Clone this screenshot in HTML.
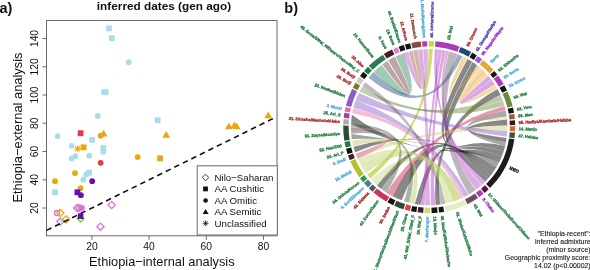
<!DOCTYPE html>
<html><head><meta charset="utf-8"><style>
html,body{margin:0;padding:0;background:#fff;}
svg{display:block;font-family:"Liberation Sans",sans-serif;}
.gs{will-change:transform;}
</style></head><body>
<svg width="590" height="270" viewBox="0 0 590 270">
<rect width="590" height="270" fill="#fff"/>
<g class="gs">
<rect x="46.5" y="20.5" width="230.5" height="215.3" fill="none" stroke="#6a6a6a" stroke-width="1"/>
<line x1="91.9" y1="235.8" x2="91.9" y2="239.8" stroke="#6a6a6a" stroke-width="1"/>
<text x="91.9" y="250.3" font-size="10.3" text-anchor="middle" fill="#111">20</text>
<line x1="149.1" y1="235.8" x2="149.1" y2="239.8" stroke="#6a6a6a" stroke-width="1"/>
<text x="149.1" y="250.3" font-size="10.3" text-anchor="middle" fill="#111">40</text>
<line x1="206.3" y1="235.8" x2="206.3" y2="239.8" stroke="#6a6a6a" stroke-width="1"/>
<text x="206.3" y="250.3" font-size="10.3" text-anchor="middle" fill="#111">60</text>
<line x1="263.5" y1="235.8" x2="263.5" y2="239.8" stroke="#6a6a6a" stroke-width="1"/>
<text x="263.5" y="250.3" font-size="10.3" text-anchor="middle" fill="#111">80</text>
<line x1="42.5" y1="208.0" x2="46.5" y2="208.0" stroke="#6a6a6a" stroke-width="1"/>
<text x="0" y="0" transform="translate(37.7 208.0) rotate(-90)" font-size="10.3" text-anchor="middle" fill="#111">20</text>
<line x1="42.5" y1="179.8" x2="46.5" y2="179.8" stroke="#6a6a6a" stroke-width="1"/>
<text x="0" y="0" transform="translate(37.7 179.8) rotate(-90)" font-size="10.3" text-anchor="middle" fill="#111">40</text>
<line x1="42.5" y1="151.5" x2="46.5" y2="151.5" stroke="#6a6a6a" stroke-width="1"/>
<text x="0" y="0" transform="translate(37.7 151.5) rotate(-90)" font-size="10.3" text-anchor="middle" fill="#111">60</text>
<line x1="42.5" y1="123.2" x2="46.5" y2="123.2" stroke="#6a6a6a" stroke-width="1"/>
<text x="0" y="0" transform="translate(37.7 123.2) rotate(-90)" font-size="10.3" text-anchor="middle" fill="#111">80</text>
<line x1="42.5" y1="95.0" x2="46.5" y2="95.0" stroke="#6a6a6a" stroke-width="1"/>
<text x="0" y="0" transform="translate(37.7 95.0) rotate(-90)" font-size="10.3" text-anchor="middle" fill="#111">100</text>
<line x1="42.5" y1="66.8" x2="46.5" y2="66.8" stroke="#6a6a6a" stroke-width="1"/>
<text x="0" y="0" transform="translate(37.7 66.8) rotate(-90)" font-size="10.3" text-anchor="middle" fill="#111">120</text>
<line x1="42.5" y1="38.5" x2="46.5" y2="38.5" stroke="#6a6a6a" stroke-width="1"/>
<text x="0" y="0" transform="translate(37.7 38.5) rotate(-90)" font-size="10.3" text-anchor="middle" fill="#111">140</text>
<text x="161.8" y="265.8" font-size="12.8" text-anchor="middle" fill="#111">Ethiopia−internal analysis</text>
<text x="0" y="0" transform="translate(22.4 127.5) rotate(-90)" font-size="12.9" text-anchor="middle" fill="#111">Ethiopia−external analysis</text>
<text x="164" y="10.1" font-size="11.8" font-weight="bold" text-anchor="middle" fill="#111">inferred dates (gen ago)</text>
<text x="-0.5" y="13.4" font-size="14.5" font-weight="bold" fill="#111">a)</text>
<text x="284.3" y="13.3" font-size="14.5" font-weight="bold" fill="#111">b)</text>
<rect x="106.10" y="25.50" width="5.8" height="5.8" fill="#ABDCEB"/>
<rect x="109.00" y="35.30" width="5.8" height="5.8" fill="#ABDCEB"/>
<circle cx="128.80" cy="62.20" r="2.9" fill="#ABDCEB"/>
<circle cx="103.90" cy="92.20" r="2.9" fill="#ABDCEB"/>
<rect x="102.70" y="89.30" width="5.8" height="5.8" fill="#ABDCEB"/>
<circle cx="97.70" cy="116.00" r="2.9" fill="#ABDCEB"/>
<rect x="154.80" y="117.30" width="5.8" height="5.8" fill="#ABDCEB"/>
<circle cx="57.70" cy="136.10" r="2.9" fill="#ABDCEB"/>
<rect x="89.20" y="136.90" width="5.8" height="5.8" fill="#ABDCEB"/>
<circle cx="71.70" cy="145.80" r="2.9" fill="#ABDCEB"/>
<rect x="100.40" y="145.10" width="5.8" height="5.8" fill="#ABDCEB"/>
<circle cx="103.30" cy="151.70" r="2.9" fill="#ABDCEB"/>
<circle cx="71.70" cy="158.40" r="2.9" fill="#ABDCEB"/>
<circle cx="75.40" cy="156.20" r="2.9" fill="#ABDCEB"/>
<circle cx="89.20" cy="155.70" r="2.9" fill="#ABDCEB"/>
<circle cx="86.30" cy="174.50" r="2.9" fill="#ABDCEB"/>
<rect x="86.30" y="169.70" width="5.8" height="5.8" fill="#ABDCEB"/>
<circle cx="83.30" cy="179.70" r="2.9" fill="#ABDCEB"/>
<rect x="52.10" y="189.40" width="5.8" height="5.8" fill="#ABDCEB"/>
<rect x="77.70" y="130.30" width="5.8" height="5.8" fill="#E8383F"/>
<circle cx="100.70" cy="162.80" r="2.9" fill="#E8383F"/>
<circle cx="100.70" cy="135.70" r="2.9" fill="#E8A80C"/>
<path d="M103.60 129.71 L107.50 136.47 L99.70 136.47Z" fill="#E8A80C"/>
<path d="M166.20 130.91 L170.10 137.67 L162.30 137.67Z" fill="#E8A80C"/>
<path d="M74.30 148.70L81.10 148.70M75.30 146.30L80.10 151.10M77.70 145.30L77.70 152.10M80.10 146.30L75.30 151.10" stroke="#E8A80C" stroke-width="1.1" fill="none"/>
<rect x="80.70" y="144.40" width="5.8" height="5.8" fill="#E8A80C"/>
<circle cx="137.70" cy="157.10" r="2.9" fill="#E8A80C"/>
<rect x="157.20" y="155.50" width="5.8" height="5.8" fill="#E8A80C"/>
<circle cx="75.00" cy="173.10" r="2.9" fill="#E8A80C"/>
<circle cx="55.00" cy="181.20" r="2.9" fill="#E8A80C"/>
<circle cx="80.60" cy="188.20" r="2.9" fill="#E8A80C"/>
<path d="M228.90 122.51 L232.80 129.27 L225.00 129.27Z" fill="#E8A80C"/>
<path d="M234.40 121.41 L238.30 128.17 L230.50 128.17Z" fill="#E8A80C"/>
<path d="M236.70 122.51 L240.60 129.27 L232.80 129.27Z" fill="#E8A80C"/>
<path d="M268.20 111.41 L272.10 118.17 L264.30 118.17Z" fill="#E8A80C"/>
<circle cx="92.20" cy="181.20" r="2.9" fill="#6A0DAD"/>
<rect x="74.50" y="189.40" width="5.8" height="5.8" fill="#6A0DAD"/>
<circle cx="80.90" cy="195.20" r="2.9" fill="#6A0DAD"/>
<path d="M77.10 204.40 L80.70 208.00 L77.10 211.60 L73.50 208.00Z" fill="none" stroke="#DA70D6" stroke-width="1.3"/>
<path d="M79.50 204.40 L83.10 208.00 L79.50 211.60 L75.90 208.00Z" fill="none" stroke="#DA70D6" stroke-width="1.3"/>
<path d="M78.10 208.00L85.30 208.00M79.15 205.45L84.25 210.55M81.70 204.40L81.70 211.60M84.25 205.45L79.15 210.55" stroke="#DA70D6" stroke-width="1.3" fill="none"/>
<path d="M111.70 201.40 L115.30 205.00 L111.70 208.60 L108.10 205.00Z" fill="none" stroke="#DA70D6" stroke-width="1.3"/>
<circle cx="57.1" cy="213.1" r="2.6" fill="none" stroke="#DA70D6" stroke-width="1.3"/>
<path d="M60.30 218.00 L63.90 221.60 L60.30 225.20 L56.70 221.60Z" fill="none" stroke="#DA70D6" stroke-width="1.3"/>
<circle cx="62.20" cy="220.30" r="2.4" fill="#ABDCEB"/>
<path d="M60.30 209.50 L63.90 213.10 L60.30 216.70 L56.70 213.10Z" fill="none" stroke="#E8A80C" stroke-width="1.3"/>
<path d="M66.10 215.80 L69.70 219.40 L66.10 223.00 L62.50 219.40Z" fill="none" stroke="#E8A80C" stroke-width="1.3"/>
<path d="M80.60 215.30 L83.90 218.60 L80.60 221.90 L77.30 218.60Z" fill="none" stroke="#5ACC10" stroke-width="1.3"/>
<rect x="77.80" y="213.40" width="5.6" height="5.6" fill="#6A0DAD"/>
<path d="M100.50 223.10 L104.10 226.70 L100.50 230.30 L96.90 226.70Z" fill="none" stroke="#DA70D6" stroke-width="1.3"/>
<line x1="46.5" y1="230.4" x2="274.4" y2="117.9" stroke="#111" stroke-width="1.6" stroke-dasharray="5.5 4"/>
<rect x="197.2" y="165.8" width="80.1" height="69.2" fill="#fff" stroke="#6a6a6a" stroke-width="1"/>
<text x="214.5" y="180.8" font-size="9.7" fill="#111">Nilo−Saharan</text>
<text x="214.5" y="192.2" font-size="9.7" fill="#111">AA Cushitic</text>
<text x="214.5" y="203.8" font-size="9.7" fill="#111">AA Omitic</text>
<text x="214.5" y="215.2" font-size="9.7" fill="#111">AA Semitic</text>
<text x="214.5" y="226.6" font-size="9.7" fill="#111">Unclassified</text>
<path d="M205.50 174.20 L208.80 177.50 L205.50 180.80 L202.20 177.50Z" fill="none" stroke="#222" stroke-width="0.9"/>
<rect x="203.1" y="186.5" width="4.8" height="4.8" fill="#111"/>
<circle cx="205.6" cy="200.5" r="2.3" fill="#111"/>
<path d="M205.6 208.9 L208.6 214.1 L202.6 214.1Z" fill="#111"/>
<path d="M202.70 223.30L208.50 223.30M203.55 221.25L207.65 225.35M205.60 220.40L205.60 226.20M207.65 221.25L203.55 225.35" stroke="#111" stroke-width="0.8" fill="none"/>
<path d="M505.08 146.02A78.2 78.2 0 0 1 503.57 151.27Q482.71 144.49 463.95 146.75Q421.72 151.84 472.70 62.12A78.2 78.2 0 0 1 477.02 65.23Q424.68 154.91 464.05 145.25Q483.18 140.56 505.08 146.02Z" fill="#1a1a1a" fill-opacity="0.52"/>
<path d="M503.57 151.27A78.2 78.2 0 0 1 501.71 156.39Q481.53 148.24 462.89 148.74Q417.96 149.94 467.59 58.97A78.2 78.2 0 0 1 472.25 61.81Q420.63 153.68 463.11 147.26Q482.30 144.35 503.57 151.27Z" fill="#1a1a1a" fill-opacity="0.52"/>
<path d="M501.71 156.39A78.2 78.2 0 0 1 498.88 162.60Q479.97 152.97 461.73 152.22Q404.64 149.87 351.07 123.69A78.2 78.2 0 0 1 351.96 114.87Q404.63 154.69 462.27 149.78Q481.32 148.16 501.71 156.39Z" fill="#1a1a1a" fill-opacity="0.52"/>
<path d="M498.88 162.60A78.2 78.2 0 0 1 496.23 167.38Q478.37 156.64 461.63 151.93Q408.45 136.95 351.90 138.93A78.2 78.2 0 0 1 351.30 133.92Q406.99 140.96 462.37 150.07Q479.96 152.96 498.88 162.60Z" fill="#1a1a1a" fill-opacity="0.4"/>
<path d="M496.23 167.38A78.2 78.2 0 0 1 493.26 171.95Q476.33 160.10 461.50 151.87Q415.02 126.06 355.17 152.30A78.2 78.2 0 0 1 353.53 146.81Q412.06 129.44 462.50 150.13Q478.37 156.64 496.23 167.38Z" fill="#1a1a1a" fill-opacity="0.52"/>
<path d="M493.26 171.95A78.2 78.2 0 0 1 490.82 175.24Q474.18 162.24 460.41 151.81Q425.58 125.42 381.27 188.89A78.2 78.2 0 0 1 377.08 185.40Q423.59 124.67 461.59 150.19Q475.95 159.83 493.26 171.95Z" fill="#1a1a1a" fill-opacity="0.52"/>
<path d="M490.82 175.24A78.2 78.2 0 0 1 488.04 178.61Q472.06 164.62 459.35 152.76Q432.01 127.24 401.56 200.25A78.2 78.2 0 0 1 392.61 196.21Q429.01 125.51 460.65 151.24Q474.11 162.19 490.82 175.24Z" fill="#1a1a1a" fill-opacity="0.52"/>
<path d="M488.04 178.61A78.2 78.2 0 0 1 485.17 181.72Q470.18 167.09 458.31 154.73Q436.56 132.06 420.35 204.80A78.2 78.2 0 0 1 414.82 203.97Q434.73 130.41 459.69 153.27Q472.30 164.84 488.04 178.61Z" fill="#1a1a1a" fill-opacity="0.52"/>
<path d="M506.64 137.98A78.2 78.2 0 0 1 505.96 142.02Q429.20 127.10 507.03 119.47A78.2 78.2 0 0 1 507.38 125.46Q429.20 127.10 506.64 137.98Z" fill="#1a1a1a" fill-opacity="0.52"/>
<path d="M505.96 142.02A78.2 78.2 0 0 1 505.08 146.02Q429.20 127.10 505.60 110.44A78.2 78.2 0 0 1 506.69 116.62Q429.20 127.10 505.96 142.02Z" fill="#1a1a1a" fill-opacity="0.38"/>
<path d="M440.22 204.52A78.2 78.2 0 0 1 435.61 205.04Q429.20 127.10 497.53 89.07A78.2 78.2 0 0 1 500.53 95.04Q429.20 127.10 440.22 204.52Z" fill="#1a1a1a" fill-opacity="0.52"/>
<path d="M373.90 71.80A78.2 78.2 0 0 1 381.70 64.98Q429.20 127.10 395.66 56.46A78.2 78.2 0 0 1 403.74 53.16Q429.20 127.10 373.90 71.80Z" fill="#2E8A5E" fill-opacity="0.45"/>
<path d="M382.36 64.48A78.2 78.2 0 0 1 387.30 61.07Q429.20 127.10 388.22 60.49A78.2 78.2 0 0 1 394.92 56.81Q429.20 127.10 382.36 64.48Z" fill="#6A3A3A" fill-opacity="0.45"/>
<path d="M403.48 53.25A78.2 78.2 0 0 1 408.17 51.78Q429.20 127.10 423.20 49.13A78.2 78.2 0 0 1 427.84 48.91Q429.20 127.10 403.48 53.25Z" fill="#B03CC0" fill-opacity="0.4"/>
<path d="M408.70 51.64A78.2 78.2 0 0 1 412.67 50.67Q429.20 127.10 413.21 50.55A78.2 78.2 0 0 1 417.51 49.78Q429.20 127.10 408.70 51.64Z" fill="#9A5A46" fill-opacity="0.45"/>
<path d="M418.05 49.70A78.2 78.2 0 0 1 422.66 49.17Q429.20 127.10 429.88 205.30A78.2 78.2 0 0 1 425.11 205.19Q429.20 127.10 418.05 49.70Z" fill="#B03CC0" fill-opacity="0.42"/>
<path d="M368.60 77.68A78.2 78.2 0 0 1 373.71 72.00Q429.20 127.10 457.73 54.29A78.2 78.2 0 0 1 462.25 56.23Q429.20 127.10 368.60 77.68Z" fill="#1D4B78" fill-opacity="0.45"/>
<path d="M428.65 48.90A78.2 78.2 0 0 1 432.75 48.98Q429.20 127.10 370.18 178.40A78.2 78.2 0 0 1 367.16 174.71Q429.20 127.10 428.65 48.90Z" fill="#B8D030" fill-opacity="0.7"/>
<path d="M434.79 49.10A78.2 78.2 0 0 1 438.19 49.42Q429.20 127.10 484.98 181.91A78.2 78.2 0 0 1 481.83 184.94Q429.20 127.10 434.79 49.10Z" fill="#B03CC0" fill-opacity="0.45"/>
<path d="M438.59 49.47A78.2 78.2 0 0 1 441.97 49.95Q429.20 127.10 424.56 205.16A78.2 78.2 0 0 1 420.62 204.83Q429.20 127.10 438.59 49.47Z" fill="#B03CC0" fill-opacity="0.45"/>
<path d="M442.38 50.02A78.2 78.2 0 0 1 445.73 50.67Q429.20 127.10 435.34 205.06A78.2 78.2 0 0 1 430.70 205.29Q429.20 127.10 442.38 50.02Z" fill="#B03CC0" fill-opacity="0.45"/>
<path d="M446.13 50.75A78.2 78.2 0 0 1 448.65 51.36Q429.20 127.10 481.42 185.31A78.2 78.2 0 0 1 476.04 189.72Q429.20 127.10 446.13 50.75Z" fill="#B03CC0" fill-opacity="0.42"/>
<path d="M448.91 51.43A78.2 78.2 0 0 1 457.22 54.09Q429.20 127.10 475.61 190.04A78.2 78.2 0 0 1 468.77 194.55Q429.20 127.10 448.91 51.43Z" fill="#5A4A5A" fill-opacity="0.4"/>
<path d="M462.74 56.46A78.2 78.2 0 0 1 467.11 58.70Q429.20 127.10 477.45 65.56A78.2 78.2 0 0 1 480.50 68.08Q429.20 127.10 462.74 56.46Z" fill="#EBA030" fill-opacity="0.42"/>
<path d="M480.71 68.26A78.2 78.2 0 0 1 488.04 75.59Q429.20 127.10 494.93 84.74A78.2 78.2 0 0 1 497.26 88.59Q429.20 127.10 480.71 68.26Z" fill="#EBA030" fill-opacity="0.4"/>
<path d="M506.73 116.89A78.2 78.2 0 0 1 507.00 119.20Q429.20 127.10 483.52 70.85A78.2 78.2 0 0 1 484.50 71.80Q429.20 127.10 506.73 116.89Z" fill="#EBA030" fill-opacity="0.3"/>
<path d="M488.40 76.00A78.2 78.2 0 0 1 491.32 79.60Q429.20 127.10 491.49 79.82A78.2 78.2 0 0 1 494.63 84.28Q429.20 127.10 488.40 76.00Z" fill="#B03CC0" fill-opacity="0.45"/>
<path d="M500.75 95.54A78.2 78.2 0 0 1 502.68 100.35Q429.20 127.10 359.65 91.35A78.2 78.2 0 0 1 360.80 89.19Q429.20 127.10 500.75 95.54Z" fill="#6B8B3A" fill-opacity="0.45"/>
<path d="M502.78 100.61A78.2 78.2 0 0 1 504.41 105.68Q429.20 127.10 360.94 88.95A78.2 78.2 0 0 1 362.03 87.06Q429.20 127.10 502.78 100.61Z" fill="#6B8B3A" fill-opacity="0.45"/>
<path d="M504.48 105.94A78.2 78.2 0 0 1 505.55 110.17Q429.20 127.10 392.61 196.21A78.2 78.2 0 0 1 386.15 192.39Q429.20 127.10 504.48 105.94Z" fill="#D42F5E" fill-opacity="0.5"/>
<path d="M507.38 125.46A78.2 78.2 0 0 1 507.30 131.06Q429.20 127.10 357.65 158.66A78.2 78.2 0 0 1 355.72 153.85Q429.20 127.10 507.38 125.46Z" fill="#BFD470" fill-opacity="0.45"/>
<path d="M507.29 131.33A78.2 78.2 0 0 1 506.82 136.63Q429.20 127.10 355.72 100.35A78.2 78.2 0 0 1 358.91 92.82Q429.20 127.10 507.29 131.33Z" fill="#8A5CC8" fill-opacity="0.45"/>
<path d="M468.54 194.69A78.2 78.2 0 0 1 464.34 196.96Q429.20 127.10 353.46 107.65A78.2 78.2 0 0 1 355.72 100.35Q429.20 127.10 468.54 194.69Z" fill="#8A5CC8" fill-opacity="0.45"/>
<path d="M362.31 86.59A78.2 78.2 0 0 1 365.14 82.25Q429.20 127.10 445.59 203.56A78.2 78.2 0 0 1 440.49 204.48Q429.20 127.10 362.31 86.59Z" fill="#5A4A5A" fill-opacity="0.38"/>
<path d="M461.01 198.54A78.2 78.2 0 0 1 453.37 201.47Q429.20 127.10 364.37 170.83A78.2 78.2 0 0 1 360.80 165.01Q429.20 127.10 461.01 198.54Z" fill="#BFD470" fill-opacity="0.5"/>
<path d="M365.93 173.06A78.2 78.2 0 0 1 364.37 170.83Q429.20 127.10 414.28 203.86A78.2 78.2 0 0 1 409.36 202.74Q429.20 127.10 365.93 173.06Z" fill="#BFD470" fill-opacity="0.5"/>
<path d="M360.80 165.01A78.2 78.2 0 0 1 357.76 158.91Q429.20 127.10 453.37 201.47A78.2 78.2 0 0 1 445.86 203.50Q429.20 127.10 360.80 165.01Z" fill="#BFD470" fill-opacity="0.45"/>
<path d="M377.08 185.40A78.2 78.2 0 0 1 370.81 179.12Q429.20 127.10 461.01 198.54A78.2 78.2 0 0 1 453.37 201.47Q429.20 127.10 377.08 185.40Z" fill="#BFD470" fill-opacity="0.4"/>
<path d="M409.09 202.67A78.2 78.2 0 0 1 404.00 201.13Q429.20 127.10 351.27 133.64A78.2 78.2 0 0 1 351.01 128.06Q429.20 127.10 409.09 202.67Z" fill="#2F4F2F" fill-opacity="0.42"/>
<path d="M386.15 192.39A78.2 78.2 0 0 1 381.49 189.06Q429.20 127.10 351.00 127.78A78.2 78.2 0 0 1 351.06 123.96Q429.20 127.10 386.15 192.39Z" fill="#2F4F2F" fill-opacity="0.42"/>
<path d="M414.82 203.97A78.2 78.2 0 0 1 414.28 203.86Q429.20 127.10 353.32 146.02A78.2 78.2 0 0 1 352.19 140.68Q429.20 127.10 414.82 203.97Z" fill="#BFD470" fill-opacity="0.5"/>
<path d="M357.65 158.66A78.2 78.2 0 0 1 355.72 153.85Q429.20 127.10 351.07 130.51A78.2 78.2 0 0 1 351.01 128.06Q429.20 127.10 357.65 158.66Z" fill="#E86AA8" fill-opacity="0.5"/>
<path d="M352.24 113.25A78.2 78.2 0 0 1 353.32 108.18Q429.20 127.10 464.09 197.08A78.2 78.2 0 0 1 461.26 198.43Q429.20 127.10 352.24 113.25Z" fill="#E86AA8" fill-opacity="0.45"/>
<path d="M422.00 41.40A86.0 86.0 0 0 1 427.10 41.13L427.23 46.52A80.6 80.6 0 0 0 422.46 46.78Z" fill="#B23CB8"/>
<path d="M428.60 41.10A86.0 86.0 0 0 1 434.00 41.23L433.70 46.63A80.6 80.6 0 0 0 428.64 46.50Z" fill="#C3D94E"/>
<path d="M435.50 41.33A86.0 86.0 0 0 1 459.46 46.60L457.56 51.65A80.6 80.6 0 0 0 435.10 46.72Z" fill="#A93DB6"/>
<path d="M460.58 47.03A86.0 86.0 0 0 1 471.16 52.03L468.52 56.74A80.6 80.6 0 0 0 458.61 52.06Z" fill="#1D4B78"/>
<path d="M472.20 52.62A86.0 86.0 0 0 1 476.79 55.47L473.80 59.97A80.6 80.6 0 0 0 469.50 57.30Z" fill="#141414"/>
<path d="M477.79 56.14A86.0 86.0 0 0 1 482.15 59.33L478.82 63.59A80.6 80.6 0 0 0 474.74 60.60Z" fill="#9A5BD2"/>
<path d="M483.09 60.08A86.0 86.0 0 0 1 493.51 70.00L489.47 73.59A80.6 80.6 0 0 0 479.70 64.29Z" fill="#E9A53A"/>
<path d="M494.30 70.91A86.0 86.0 0 0 1 497.34 74.63L493.06 77.92A80.6 80.6 0 0 0 490.21 74.43Z" fill="#141414"/>
<path d="M498.06 75.58A86.0 86.0 0 0 1 503.68 84.10L499.00 86.80A80.6 80.6 0 0 0 493.74 78.82Z" fill="#A93DB6"/>
<path d="M504.27 85.14A86.0 86.0 0 0 1 507.02 90.48L502.13 92.78A80.6 80.6 0 0 0 499.56 87.78Z" fill="#141414"/>
<path d="M507.52 91.57A86.0 86.0 0 0 1 512.65 106.29L507.41 107.60A80.6 80.6 0 0 0 502.60 93.80Z" fill="#6B8B3A"/>
<path d="M512.93 107.46A86.0 86.0 0 0 1 514.00 112.76L508.67 113.66A80.6 80.6 0 0 0 507.67 108.69Z" fill="#141414"/>
<path d="M514.19 113.94A86.0 86.0 0 0 1 514.82 119.01L509.44 119.51A80.6 80.6 0 0 0 508.85 114.77Z" fill="#9C5A3C"/>
<path d="M514.92 120.20A86.0 86.0 0 0 1 515.17 125.00L509.78 125.13A80.6 80.6 0 0 0 509.54 120.64Z" fill="#3C1616"/>
<path d="M515.20 126.20A86.0 86.0 0 0 1 515.10 131.30L509.70 131.04A80.6 80.6 0 0 0 509.80 126.26Z" fill="#D9652B"/>
<path d="M515.03 132.50A86.0 86.0 0 0 1 514.48 138.18L509.13 137.48A80.6 80.6 0 0 0 509.64 132.16Z" fill="#3E5A34"/>
<path d="M514.32 139.37A86.0 86.0 0 0 1 490.01 187.91L486.19 184.09A80.6 80.6 0 0 0 508.98 138.60Z" fill="#1C1C1C"/>
<path d="M488.72 189.17A86.0 86.0 0 0 1 484.48 192.98L481.01 188.84A80.6 80.6 0 0 0 484.99 185.27Z" fill="#5C1245"/>
<path d="M483.55 193.75A86.0 86.0 0 0 1 479.02 197.20L475.89 192.80A80.6 80.6 0 0 0 480.14 189.56Z" fill="#A93DB6"/>
<path d="M478.03 197.89A86.0 86.0 0 0 1 467.44 204.13L465.04 199.29A80.6 80.6 0 0 0 474.97 193.44Z" fill="#6A5060"/>
<path d="M466.36 204.66A86.0 86.0 0 0 1 445.61 211.52L444.58 206.22A80.6 80.6 0 0 0 464.03 199.79Z" fill="#E2EDC2"/>
<path d="M444.13 211.79A86.0 86.0 0 0 1 439.08 212.53L438.46 207.17A80.6 80.6 0 0 0 443.20 206.48Z" fill="#141414"/>
<path d="M437.59 212.69A86.0 86.0 0 0 1 431.60 213.07L431.45 207.67A80.6 80.6 0 0 0 437.07 207.32Z" fill="#141414"/>
<path d="M430.10 213.10A86.0 86.0 0 0 1 424.40 212.97L424.70 207.57A80.6 80.6 0 0 0 430.04 207.70Z" fill="#CBDF6C"/>
<path d="M423.20 212.89A86.0 86.0 0 0 1 417.53 212.30L418.26 206.95A80.6 80.6 0 0 0 423.58 207.50Z" fill="#4A1232"/>
<path d="M416.34 212.13A86.0 86.0 0 0 1 411.03 211.16L412.17 205.88A80.6 80.6 0 0 0 417.15 206.79Z" fill="#141414"/>
<path d="M409.85 210.90A86.0 86.0 0 0 1 404.63 209.52L406.17 204.34A80.6 80.6 0 0 0 411.07 205.63Z" fill="#E8393B"/>
<path d="M403.48 209.16A86.0 86.0 0 0 1 394.22 205.66L396.42 200.73A80.6 80.6 0 0 0 405.10 204.01Z" fill="#2F4A2C"/>
<path d="M393.13 205.17A86.0 86.0 0 0 1 387.51 202.32L390.12 197.59A80.6 80.6 0 0 0 395.39 200.27Z" fill="#141414"/>
<path d="M386.46 201.73A86.0 86.0 0 0 1 373.46 192.59L376.96 188.48A80.6 80.6 0 0 0 389.14 197.04Z" fill="#D2305C"/>
<path d="M372.55 191.81A86.0 86.0 0 0 1 368.81 188.33L372.61 184.49A80.6 80.6 0 0 0 376.11 187.74Z" fill="#555555"/>
<path d="M367.97 187.49A86.0 86.0 0 0 1 363.90 183.07L368.00 179.55A80.6 80.6 0 0 0 371.81 183.69Z" fill="#4F7F96"/>
<path d="M363.13 182.15A86.0 86.0 0 0 1 359.98 178.13L364.33 174.93A80.6 80.6 0 0 0 367.28 178.69Z" fill="#2E9E4A"/>
<path d="M359.27 177.16A86.0 86.0 0 0 1 350.27 161.25L355.23 159.11A80.6 80.6 0 0 0 363.66 174.02Z" fill="#B8BF2E"/>
<path d="M349.80 160.15A86.0 86.0 0 0 1 347.98 155.38L353.08 153.61A80.6 80.6 0 0 0 354.79 158.07Z" fill="#4A1A1A"/>
<path d="M347.60 154.25A86.0 86.0 0 0 1 345.98 148.78L351.20 147.42A80.6 80.6 0 0 0 352.72 152.54Z" fill="#141414"/>
<path d="M345.68 147.61A86.0 86.0 0 0 1 344.51 142.03L349.82 141.10A80.6 80.6 0 0 0 350.93 146.33Z" fill="#1E7D3E"/>
<path d="M344.31 140.85A86.0 86.0 0 0 1 343.21 125.60L348.61 125.69A80.6 80.6 0 0 0 349.64 139.99Z" fill="#2F4A2F"/>
<path d="M343.24 124.40A86.0 86.0 0 0 1 343.58 119.01L348.96 119.51A80.6 80.6 0 0 0 348.64 124.57Z" fill="#A3B29E"/>
<path d="M343.70 117.81A86.0 86.0 0 0 1 344.40 112.76L349.73 113.66A80.6 80.6 0 0 0 349.07 118.40Z" fill="#A03CC0"/>
<path d="M344.61 111.58A86.0 86.0 0 0 1 345.61 106.88L350.86 108.15A80.6 80.6 0 0 0 349.92 112.55Z" fill="#E86AA8"/>
<path d="M345.90 105.71A86.0 86.0 0 0 1 352.17 88.86L357.01 91.26A80.6 80.6 0 0 0 351.13 107.06Z" fill="#8A5CC8"/>
<path d="M352.71 87.79A86.0 86.0 0 0 1 355.48 82.81L360.11 85.59A80.6 80.6 0 0 0 357.51 90.26Z" fill="#7A7A22"/>
<path d="M356.11 81.78A86.0 86.0 0 0 1 359.27 77.04L363.66 80.18A80.6 80.6 0 0 0 360.70 84.63Z" fill="#DCC4C4"/>
<path d="M359.98 76.07A86.0 86.0 0 0 1 363.32 71.82L367.46 75.29A80.6 80.6 0 0 0 364.33 79.27Z" fill="#141414"/>
<path d="M364.10 70.91A86.0 86.0 0 0 1 367.97 66.71L371.81 70.51A80.6 80.6 0 0 0 368.19 74.43Z" fill="#1E7A3E"/>
<path d="M368.81 65.87A86.0 86.0 0 0 1 382.87 54.65L385.78 59.20A80.6 80.6 0 0 0 372.61 69.71Z" fill="#2E7A55"/>
<path d="M383.88 54.01A86.0 86.0 0 0 1 392.04 49.54L394.37 54.41A80.6 80.6 0 0 0 386.73 58.60Z" fill="#4A1E1E"/>
<path d="M393.13 49.03A86.0 86.0 0 0 1 397.54 47.14L399.53 52.16A80.6 80.6 0 0 0 395.39 53.93Z" fill="#E07AD0"/>
<path d="M398.66 46.70A86.0 86.0 0 0 1 403.77 44.95L405.37 50.10A80.6 80.6 0 0 0 400.58 51.75Z" fill="#141414"/>
<path d="M404.92 44.60A86.0 86.0 0 0 1 410.15 43.24L411.34 48.50A80.6 80.6 0 0 0 406.44 49.78Z" fill="#141414"/>
<path d="M411.32 42.98A86.0 86.0 0 0 1 420.81 41.51L421.33 46.88A80.6 80.6 0 0 0 412.44 48.26Z" fill="#8B4A3A"/>
<text transform="translate(424.36 37.73) rotate(86.9)" font-size="4.05" font-weight="bold" fill="#4FA8DC" stroke="#4FA8DC" stroke-width="0.3" dominant-baseline="central" text-anchor="end">1. Murle/Nyangatom</text>
<text transform="translate(431.39 37.63) rotate(-88.6)" font-size="4.05" font-weight="bold" fill="#4A3AA8" stroke="#4A3AA8" stroke-width="0.3" dominant-baseline="central">48. Amhara/Oromo</text>
<text transform="translate(448.42 39.69) rotate(-77.6)" font-size="4.05" font-weight="bold" fill="#1E7D3E" stroke="#1E7D3E" stroke-width="0.3" dominant-baseline="central">56. Wel</text>
<text transform="translate(467.45 46.18) rotate(-64.7)" font-size="4.05" font-weight="bold" fill="#A82424" stroke="#A82424" stroke-width="0.3" dominant-baseline="central">60. Oromo</text>
<text transform="translate(476.36 51.03) rotate(-58.2)" font-size="4.05" font-weight="bold" fill="#4A3AA8" stroke="#4A3AA8" stroke-width="0.3" dominant-baseline="central">42. Gurage/Hadiya</text>
<text transform="translate(482.06 54.88) rotate(-53.8)" font-size="4.05" font-weight="bold" fill="#9A28C0" stroke="#9A28C0" stroke-width="0.3" dominant-baseline="central">58. Negede/Wayto</text>
<text transform="translate(490.92 62.29) rotate(-46.4)" font-size="4.05" font-weight="bold" fill="#4FA8DC" stroke="#4FA8DC" stroke-width="0.3" dominant-baseline="central">Berta</text>
<text transform="translate(498.56 70.53) rotate(-39.2)" font-size="4.05" font-weight="bold" fill="#1E7D3E" stroke="#1E7D3E" stroke-width="0.3" dominant-baseline="central">62. Shinasha</text>
<text transform="translate(503.92 77.83) rotate(-33.4)" font-size="4.05" font-weight="bold" fill="#4FA8DC" stroke="#4FA8DC" stroke-width="0.3" dominant-baseline="central">50. Berta</text>
<text transform="translate(508.80 86.19) rotate(-27.2)" font-size="4.05" font-weight="bold" fill="#4FA8DC" stroke="#4FA8DC" stroke-width="0.3" dominant-baseline="central">10. Komo</text>
<text transform="translate(513.72 97.67) rotate(-19.2)" font-size="4.05" font-weight="bold" fill="#1E7D3E" stroke="#1E7D3E" stroke-width="0.3" dominant-baseline="central">54. Wel</text>
<text transform="translate(516.93 109.41) rotate(-11.4)" font-size="4.05" font-weight="bold" fill="#1E7D3E" stroke="#1E7D3E" stroke-width="0.3" dominant-baseline="central">53. Yem</text>
<text transform="translate(518.01 116.04) rotate(-7.1)" font-size="4.05" font-weight="bold" fill="#1E7D3E" stroke="#1E7D3E" stroke-width="0.3" dominant-baseline="central">59. Mao</text>
<text transform="translate(518.58 122.42) rotate(-3.0)" font-size="4.05" font-weight="bold" fill="#A82424" stroke="#A82424" stroke-width="0.3" dominant-baseline="central">55. Hadiya/Kambata/Halaba</text>
<text transform="translate(518.68 128.82) rotate(1.1)" font-size="4.05" font-weight="bold" fill="#1E7D3E" stroke="#1E7D3E" stroke-width="0.3" dominant-baseline="central">14. Manjo</text>
<text transform="translate(518.29 135.68) rotate(5.5)" font-size="4.05" font-weight="bold" fill="#1E7D3E" stroke="#1E7D3E" stroke-width="0.3" dominant-baseline="central">47. Halaba</text>
<text transform="translate(514.14 169.64) rotate(206.6)" font-size="4.6" font-weight="bold" fill="#111111" stroke="#111111" stroke-width="0.3" dominant-baseline="central" text-anchor="middle">GBR</text>
<text transform="translate(488.97 193.72) rotate(48.1)" font-size="4.05" font-weight="bold" fill="#1E7D3E" stroke="#1E7D3E" stroke-width="0.3" dominant-baseline="central">37. Gidamo/Gofa/Dorze/Oidamo</text>
<text transform="translate(483.44 198.29) rotate(52.7)" font-size="4.05" font-weight="bold" fill="#9A28C0" stroke="#9A28C0" stroke-width="0.3" dominant-baseline="central">8. Chabu</text>
<text transform="translate(474.62 204.22) rotate(59.5)" font-size="4.05" font-weight="bold" fill="#1E7D3E" stroke="#1E7D3E" stroke-width="0.3" dominant-baseline="central">43. Wel</text>
<text transform="translate(457.30 212.07) rotate(71.7)" font-size="4.05" font-weight="bold" fill="#1E7D3E" stroke="#1E7D3E" stroke-width="0.3" dominant-baseline="central">41. Sheko/Kafa/Kafficho</text>
<text transform="translate(442.12 215.66) rotate(81.7)" font-size="4.05" font-weight="bold" fill="#1E7D3E" stroke="#1E7D3E" stroke-width="0.3" dominant-baseline="central">46. Nao/Kafficho/Shekacho</text>
<text transform="translate(434.82 216.42) rotate(86.4)" font-size="4.05" font-weight="bold" fill="#1E7D3E" stroke="#1E7D3E" stroke-width="0.3" dominant-baseline="central">13. Manjo</text>
<text transform="translate(427.17 216.58) rotate(-88.7)" font-size="4.05" font-weight="bold" fill="#4FA8DC" stroke="#4FA8DC" stroke-width="0.3" dominant-baseline="central" text-anchor="end">7. Mezhenger</text>
<text transform="translate(420.00 216.13) rotate(-84.1)" font-size="4.05" font-weight="bold" fill="#1E7D3E" stroke="#1E7D3E" stroke-width="0.3" dominant-baseline="central" text-anchor="end">26. Wel_F</text>
<text transform="translate(413.04 215.13) rotate(-79.6)" font-size="4.05" font-weight="bold" fill="#1E7D3E" stroke="#1E7D3E" stroke-width="0.3" dominant-baseline="central" text-anchor="end">41. Wel_S/Wel_T/Wel_F</text>
<text transform="translate(406.34 213.63) rotate(-75.2)" font-size="4.05" font-weight="bold" fill="#1E7D3E" stroke="#1E7D3E" stroke-width="0.3" dominant-baseline="central" text-anchor="end">28. Chara</text>
<text transform="translate(397.56 210.82) rotate(-69.3)" font-size="4.05" font-weight="bold" fill="#1E7D3E" stroke="#1E7D3E" stroke-width="0.3" dominant-baseline="central" text-anchor="end">27. Sheko/Gimira/Bench/Menit/Suri</text>
<text transform="translate(388.71 206.92) rotate(-63.1)" font-size="4.05" font-weight="bold" fill="#A82424" stroke="#A82424" stroke-width="0.3" dominant-baseline="central" text-anchor="end">39. Sedae</text>
<text transform="translate(377.74 200.32) rotate(-54.9)" font-size="4.05" font-weight="bold" fill="#1E7D3E" stroke="#1E7D3E" stroke-width="0.3" dominant-baseline="central" text-anchor="end">40. Dorze/Gamo</text>
<text transform="translate(368.28 192.66) rotate(-47.1)" font-size="4.05" font-weight="bold" fill="#A82424" stroke="#A82424" stroke-width="0.3" dominant-baseline="central" text-anchor="end">42. Sidama</text>
<text transform="translate(363.32 187.68) rotate(-42.6)" font-size="4.05" font-weight="bold" fill="#4FA8DC" stroke="#4FA8DC" stroke-width="0.3" dominant-baseline="central" text-anchor="end">4. Suri/Zilmamu</text>
<text transform="translate(358.77 182.32) rotate(-38.1)" font-size="4.05" font-weight="bold" fill="#1E7D3E" stroke="#1E7D3E" stroke-width="0.3" dominant-baseline="central" text-anchor="end">34. Gidole/Konso</text>
<text transform="translate(351.30 171.17) rotate(-29.5)" font-size="4.05" font-weight="bold" fill="#4FA8DC" stroke="#4FA8DC" stroke-width="0.3" dominant-baseline="central" text-anchor="end">15. Meinit</text>
<text transform="translate(345.59 159.03) rotate(-20.9)" font-size="4.05" font-weight="bold" fill="#4FA8DC" stroke="#4FA8DC" stroke-width="0.3" dominant-baseline="central" text-anchor="end">3. Bodi</text>
<text transform="translate(343.39 152.52) rotate(-16.5)" font-size="4.05" font-weight="bold" fill="#1E7D3E" stroke="#1E7D3E" stroke-width="0.3" dominant-baseline="central" text-anchor="end">20. Ari_P</text>
<text transform="translate(341.62 145.56) rotate(-11.9)" font-size="4.05" font-weight="bold" fill="#1E7D3E" stroke="#1E7D3E" stroke-width="0.3" dominant-baseline="central" text-anchor="end">52. Nao/Dizi</text>
<text transform="translate(339.93 133.50) rotate(-4.1)" font-size="4.05" font-weight="bold" fill="#1E7D3E" stroke="#1E7D3E" stroke-width="0.3" dominant-baseline="central" text-anchor="end">31. Zayse/Mossiye</text>
<text transform="translate(339.88 121.48) rotate(3.6)" font-size="4.05" font-weight="bold" fill="#A82424" stroke="#A82424" stroke-width="0.3" dominant-baseline="central" text-anchor="end">21. Dirasha/Mashole/Alaba</text>
<text transform="translate(340.55 114.80) rotate(7.9)" font-size="4.05" font-weight="bold" fill="#1E7D3E" stroke="#1E7D3E" stroke-width="0.3" dominant-baseline="central" text-anchor="end">25. Ari_S</text>
<text transform="translate(341.66 108.49) rotate(12.0)" font-size="4.05" font-weight="bold" fill="#4FA8DC" stroke="#4FA8DC" stroke-width="0.3" dominant-baseline="central" text-anchor="end">2. Mursi</text>
<text transform="translate(345.31 95.90) rotate(20.4)" font-size="4.05" font-weight="bold" fill="#1E7D3E" stroke="#1E7D3E" stroke-width="0.3" dominant-baseline="central" text-anchor="end">23. Basket/Malen</text>
<text transform="translate(351.00 83.57) rotate(29.1)" font-size="4.05" font-weight="bold" fill="#A82424" stroke="#A82424" stroke-width="0.3" dominant-baseline="central" text-anchor="end">29. Burji</text>
<text transform="translate(354.74 77.44) rotate(33.7)" font-size="4.05" font-weight="bold" fill="#A82424" stroke="#A82424" stroke-width="0.3" dominant-baseline="central" text-anchor="end">36. Burji</text>
<text transform="translate(358.87 71.75) rotate(38.2)" font-size="4.05" font-weight="bold" fill="#1E7D3E" stroke="#1E7D3E" stroke-width="0.3" dominant-baseline="central" text-anchor="end">45. Somali/Wel_W/Dawro/Gamo/Wel_C</text>
<text transform="translate(363.43 66.40) rotate(42.7)" font-size="4.05" font-weight="bold" fill="#A82424" stroke="#A82424" stroke-width="0.3" dominant-baseline="central" text-anchor="end">33. Alse</text>
<text transform="translate(373.36 57.15) rotate(51.4)" font-size="4.05" font-weight="bold" fill="#1E7D3E" stroke="#1E7D3E" stroke-width="0.3" dominant-baseline="central" text-anchor="end">16. Hamer/Bena</text>
<text transform="translate(386.22 48.60) rotate(61.3)" font-size="4.05" font-weight="bold" fill="#1E7D3E" stroke="#1E7D3E" stroke-width="0.3" dominant-baseline="central" text-anchor="end">6. Kore</text>
<text transform="translate(393.94 44.84) rotate(66.8)" font-size="4.05" font-weight="bold" fill="#1E7D3E" stroke="#1E7D3E" stroke-width="0.3" dominant-baseline="central" text-anchor="end">18. Bena</text>
<text transform="translate(400.06 42.48) rotate(71.0)" font-size="4.05" font-weight="bold" fill="#1E7D3E" stroke="#1E7D3E" stroke-width="0.3" dominant-baseline="central" text-anchor="end">44. Basket/Dasen</text>
<text transform="translate(406.64 40.49) rotate(75.4)" font-size="4.05" font-weight="bold" fill="#A82424" stroke="#A82424" stroke-width="0.3" dominant-baseline="central" text-anchor="end">12. Arbore</text>
<text transform="translate(415.51 38.65) rotate(81.2)" font-size="4.05" font-weight="bold" fill="#8B3A2A" stroke="#8B3A2A" stroke-width="0.3" dominant-baseline="central" text-anchor="end">11. Dasanech</text>
<text x="590.6" y="236.4" font-size="6.9" text-anchor="end" fill="#1a1a1a" stroke="#1a1a1a" stroke-width="0.12">"Ethiopia-recent":</text>
<text x="590.6" y="244.3" font-size="6.9" text-anchor="end" fill="#1a1a1a" stroke="#1a1a1a" stroke-width="0.12">inferred admixture</text>
<text x="590.6" y="252.2" font-size="6.9" text-anchor="end" fill="#1a1a1a" stroke="#1a1a1a" stroke-width="0.12">(minor source)</text>
<text x="590.6" y="260.1" font-size="6.9" text-anchor="end" fill="#1a1a1a" stroke="#1a1a1a" stroke-width="0.12">Geographic proximity score:</text>
<text x="590.6" y="268.0" font-size="6.9" text-anchor="end" fill="#1a1a1a" stroke="#1a1a1a" stroke-width="0.12">14.02 (p&lt;0.00002)</text>
</g>
</svg></body></html>
